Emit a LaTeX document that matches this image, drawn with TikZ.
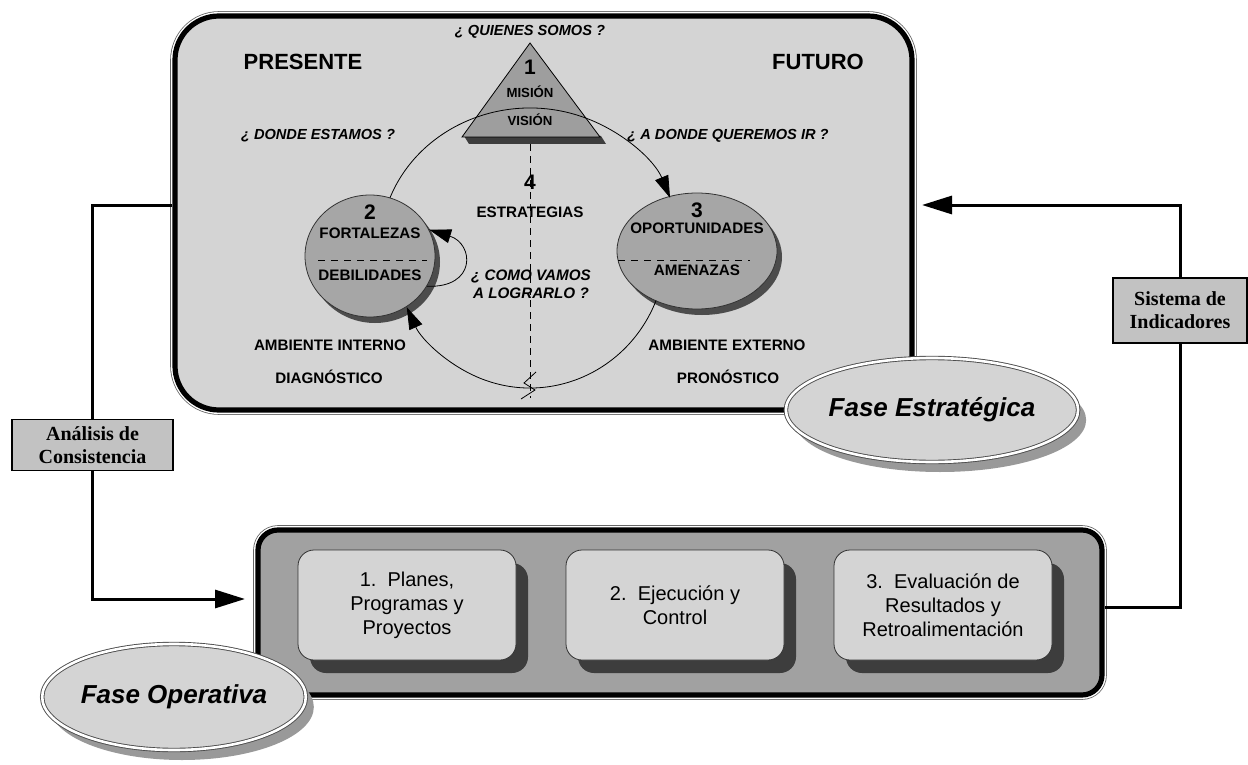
\documentclass[tikz,border=0pt]{standalone}
\usepackage{fontspec}
\setmainfont{Liberation Sans}
\newfontfamily\timesfont{Liberation Serif}
\usetikzlibrary{arrows.meta,positioning,shapes.geometric,shadows}
\definecolor{panel}{gray}{0.83}
\definecolor{opgray}{gray}{0.63}
\definecolor{blobgray}{gray}{0.65}
\definecolor{trigray}{gray}{0.62}
\definecolor{taggray}{gray}{0.76}
\definecolor{dshade}{gray}{0.24}

\begin{document}
\begin{tikzpicture}[x=0.5pt,y=0.5pt,node distance=134pt,on grid,>={Triangle[length=11pt,width=7pt]}]
  \tikzstyle{frame}=[preaction={draw=black!60,line width=4.8pt},preaction={draw=white,line width=4pt},draw=black,line width=2.6pt]
  \tikzstyle{lbl}=[inner sep=0pt,font=\fontsize{7.6}{8}\selectfont\bfseries]
  \tikzstyle{small}=[inner sep=0pt,font=\fontsize{6.6}{7}\selectfont\bfseries]
  \tikzstyle{ask}=[inner sep=0pt,align=center,font=\fontsize{7.3}{9}\selectfont\bfseries\itshape]
  \tikzstyle{num}=[inner sep=0pt,font=\fontsize{10.5}{11}\selectfont\bfseries]
  \tikzstyle{big}=[inner sep=0pt,font=\fontsize{11}{12}\selectfont\bfseries]
  \tikzstyle{blob}=[ellipse,inner sep=0pt,draw=black!80,line width=0.4pt,fill=blobgray,drop shadow={shadow xshift=2.5pt,shadow yshift=-3pt,fill=black!70,opacity=1}]
  \tikzstyle{task}=[rectangle,rounded corners=8pt,draw=black!80,line width=0.4pt,fill=panel,minimum width=109pt,minimum height=55pt,align=center,font=\fontsize{10}{12}\selectfont,drop shadow={shadow xshift=6pt,shadow yshift=-6.5pt,fill=dshade,opacity=1}]
  \tikzstyle{fase}=[ellipse,inner sep=0pt,draw=black!70,double=white,double distance=1.3pt,line width=0.45pt,fill=panel,font=\fontsize{13}{14}\selectfont\bfseries\itshape,drop shadow={shadow xshift=4pt,shadow yshift=-5pt,fill=black!40,opacity=1}]
  \tikzstyle{tag}=[rectangle,draw=black,line width=0.6pt,fill=taggray,align=center,font=\timesfont\fontsize{10}{11.5}\selectfont\bfseries]
  \tikzstyle{conn}=[line width=1.5pt]
  \tikzstyle{sep}=[line width=0.4pt,dash pattern=on 3.5pt off 2.5pt]

  \fill[white] (0,0) rectangle (1248,-765);
  \useasboundingbox (0,0) rectangle (1248,-765);

  \node[frame,fill=panel,rounded corners=22pt,minimum width=368.5pt,minimum height=197pt] (estr) at (543.5,-213) {};
  \node[frame,fill=opgray,rounded corners=10pt,minimum width=422pt,minimum height=82.5pt] (oper) at (680,-612.5) {};

  \fill[dshade] (464,-136) -- (601,-136) -- (606,-144) -- (469,-144) -- cycle;
  \draw[fill=trigray,line width=0.4pt] (530,-43) -- (600,-137) -- (462,-137) -- cycle;
  \draw[sep] (530,-144) -- (530,-398);

  \node[ask] (quien) at (530,-32) {¿ QUIENES SOMOS ?};
  \node[big] (pres) at (303,-62) {PRESENTE};
  \node[big] (fut) at (818,-62) {FUTURO};
  \node[num] (uno) at (530,-67) {1};
  \node[small] (mis) at (530,-92) {MISIÓN};
  \node[small] (vis) at (530,-120) {VISIÓN};
  \node[ask] (donde) at (318,-136) {¿ DONDE ESTAMOS ?};
  \node[ask] (adonde) at (728,-136) {¿ A DONDE QUEREMOS IR ?};
  \node[num] (cuatro) at (530,-182) {4};
  \node[lbl] (estrat) at (530,-212) {ESTRATEGIAS};
  \node[ask,font=\fontsize{7.6}{9}\selectfont\bfseries\itshape] (como) at (531,-284) {¿ COMO VAMOS\\A LOGRARLO ?};
  \node[lbl] (amint) at (330,-345) {AMBIENTE INTERNO};
  \node[lbl] (diag) at (329,-377) {DIAGNÓSTICO};
  \node[lbl] (amext) at (727,-345) {AMBIENTE EXTERNO};
  \node[lbl] (pron) at (728,-377) {PRONÓSTICO};

  \node[blob,minimum width=65pt,minimum height=61pt] (c2) at (370,-256) {};
  \node[blob,minimum width=80pt,minimum height=58pt] (c3) at (697,-251) {};
  \node[num] (dos) [above=22pt of c2] {2};
  \node[lbl] (fort) [above=11.5pt of c2] {FORTALEZAS};
  \node[lbl] (deb) [below=9.5pt of c2] {DEBILIDADES};
  \node[num] (tres) [above=20.5pt of c3] {3};
  \node[lbl] (oport) [above=11.5pt of c3] {OPORTUNIDADES};
  \node[lbl] (amen) [below=9.5pt of c3] {AMENAZAS};
  \draw[sep,dash pattern=on 3.5pt off 3pt] (318,-260) -- (427,-260);
  \draw[sep,dash pattern=on 3.5pt off 3pt] (618,-260) -- (750,-260);

  \coordinate (mid) at (530,-248);
  \draw[->,line width=0.4pt] (mid) ++(159:75pt and 70pt) arc[start angle=159,end angle=21,x radius=75pt,y radius=70pt];
  \draw[->,line width=0.4pt] (mid) ++(-22:68pt and 70pt) arc[start angle=-22,end angle=-155,x radius=68pt,y radius=70pt];
  \draw[->,line width=0.4pt] (c2.-28) .. controls +(50,-2) and +(45,-14) .. (c2.24);
  \draw[line width=0.4pt] (536,-372) -- (524,-383) -- (535,-390) -- (521,-399);

  \node[fase,minimum width=122pt,minimum height=52pt] (fest) at (932,-410) {Fase Estratégica};

  \node[task] (b1) at (407,-605) {1.\ \ Planes,\\Programas y\\Proyectos};
  \node[task] (b2) [right=of b1] {2.\ \ Ejecución y\\Control};
  \node[task] (b3) [right=of b2] {3.\ \ Evaluación de\\Resultados y\\Retroalimentación};
  \node[fase,minimum width=122pt,minimum height=53pt] (fop) at (174,-697) {Fase Operativa};

  \node[tag,minimum width=80.5pt,minimum height=25pt] (ana) at (92.5,-445) {Análisis de\\Consistencia};
  \node[tag,minimum width=67pt,minimum height=32.5pt] (sis) at (1180,-310.5) {Sistema de\\Indicadores};

  \coordinate (la) at (90,-205);
  \coordinate (lb) at (245,-599);
  \coordinate (ra) at (922,-205);
  \coordinate (rb) at (1185,-607);
  \draw[conn] (estr.west |- la) -| (ana.north);
  \draw[conn,-{Triangle[length=15pt,width=9pt]}] (ana.south) |- (lb);
  \draw[conn,-{Triangle[length=15pt,width=9pt]}] (sis.north) |- (ra);
  \draw[conn] (sis.south) |- (oper.east |- rb);
\end{tikzpicture}
\end{document}
